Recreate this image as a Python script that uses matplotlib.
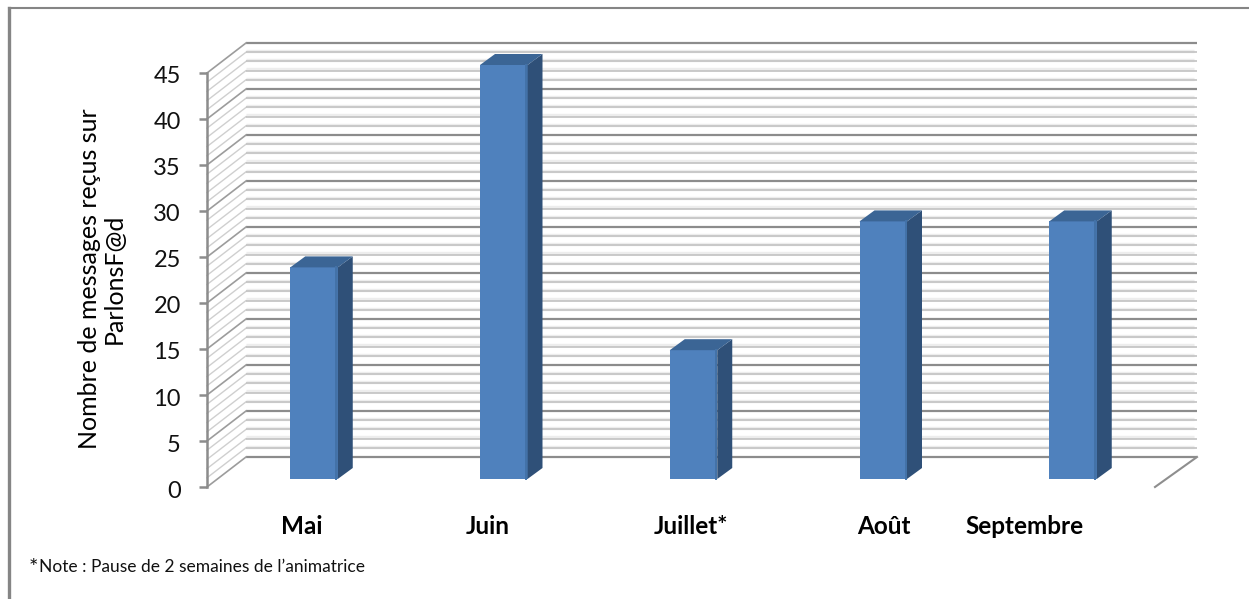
import matplotlib
matplotlib.use("Agg")
import matplotlib.pyplot as plt
import numpy as np
from matplotlib.lines import Line2D
from matplotlib.transforms import Affine2D, ScaledTranslation

plt.rcParams['font.family'] = ['Lato', 'DejaVu Sans']

months = ["Mai", "Juin", "Juillet*", "Août", "Septembre"]
messages = [23, 45, 14, 28, 28]
y_major = [0, 5, 10, 15, 20, 25, 30, 35, 40, 45]
y_minor = [v for v in range(0, 46) if v % 5 != 0]
label_shift_px = [-12, -16, -3, 1, -48]

W, H = 1249, 599
DPI = 100
UNIT_X = 189.75   # pixels per category
UNIT_Y = 9.2      # pixels per message

fig = plt.figure(figsize=(W / DPI, H / DPI), dpi=DPI, facecolor="white")
ax = fig.add_axes([207 / W, 1 - 487 / H, (1155 - 207) / W, (487 - 73) / H])
ax.set_xlim(-(314 - 207) / UNIT_X, (1155 - 314) / UNIT_X)
ax.set_ylim(0, 45)
ax.patch.set_visible(False)

# 3d look: shifts in display pixels
wall = ax.transData + Affine2D().translate(39, 30)
bar_plane = ax.transData + Affine2D().translate(0, 8)
x0, x1 = ax.get_xlim()
wall_end = x1 + 3 / UNIT_X
wall_dx = 39 / UNIT_X
wall_dy = 30 / UNIT_Y

# back wall and side wall grid
for v in y_minor:
    ax.plot([x0, wall_end - 3 / UNIT_X], [v + 0.14, v + 0.14], color="#ededed", lw=2.4, transform=wall,
            clip_on=False, zorder=1, solid_capstyle="butt")
    ax.plot([x0, wall_end], [v, v], color="#c2c2c2", lw=1.2, transform=wall,
            clip_on=False, zorder=1.1, solid_capstyle="butt")
    ax.plot([x0, x0 + wall_dx], [v, v + wall_dy], color="#cfcfcf", lw=1.0,
            clip_on=False, zorder=1)
for v in y_major:
    ax.plot([x0, wall_end], [v, v], color="#8c8c8c", lw=1.6, transform=wall,
            clip_on=False, zorder=1.2, solid_capstyle="butt")
    ax.plot([x0, x0 + wall_dx], [v, v + wall_dy], color="#9c9c9c", lw=1.2,
            clip_on=False, zorder=1.2)
ax.plot([x1, x1 + 42 / UNIT_X], [0, wall_dy], color="#8e8e8e", lw=1.5, clip_on=False, zorder=1.2)

# bars
bar_w = 47.5 / UNIT_X
side_dx = 15 / UNIT_X
side_dy = 11 / UNIT_Y
xs = np.arange(len(months))
ax.bar(xs, messages, width=bar_w, color="#4F81BD", transform=bar_plane, zorder=3, clip_on=False)
for x, v in zip(xs, messages):
    r = x + bar_w / 2
    l = x - bar_w / 2
    ax.fill([r, r + side_dx, r + side_dx, r], [0, side_dy, v + side_dy, v], color="#2F5078",
            transform=bar_plane, zorder=3, clip_on=False, lw=0)
    ax.fill([l, l + side_dx, r + side_dx, r], [v, v + side_dy, v + side_dy, v], color="#3B6595",
            transform=bar_plane, zorder=3, clip_on=False, lw=0)
    ax.plot([r - 1.5 / UNIT_X, r - 1.5 / UNIT_X], [0, v], color="#4372A8", lw=1.4,
            transform=bar_plane, zorder=3.1, clip_on=False)

# axes
for name in ["top", "right", "bottom"]:
    ax.spines[name].set_visible(False)
ax.spines["left"].set_color("#8c8c8c")
ax.spines["left"].set_linewidth(1.8)
ax.spines["left"].set_zorder(4)
ax.set_yticks(y_major)
ax.tick_params(axis="y", length=5.8, width=1.8, color="#8c8c8c", pad=13, labelsize=17, labelcolor="#111111")
ax.set_xticks([])

# tick labels sit slightly below their ticks
down = ScaledTranslation(0, -2 / DPI, fig.dpi_scale_trans)
for lab in ax.get_yticklabels():
    lab.set_transform(lab.get_transform() + down)

for x, name, shift in zip(xs, months, label_shift_px):
    ax.annotate(name, xy=(x, 0), xycoords="data", xytext=(shift * 72 / DPI, -39 * 72 / DPI),
                textcoords="offset points", ha="center", va="center", fontsize=17.5,
                fontweight="bold", color="black", annotation_clip=False)

fig.text(102 / W, 1 - 279 / H, "Nombre de messages reçus sur\nParlonsF@d", rotation=90,
         ha="center", va="center", fontsize=18, color="black", linespacing=1.1)
fig.text(29 / W, 1 - 568 / H, "*", fontsize=16, color="#111111", ha="left", va="center")
fig.text(39 / W, 1 - 567 / H, "Note : Pause de 2 semaines de l’animatrice", fontsize=12.5,
         color="#111111", ha="left", va="center")

# outer frame of the screenshot
fig.add_artist(Line2D([8.5 / W, 8.5 / W], [0, 1 - 8 / H], color="#858585", lw=2.4,
                      transform=fig.transFigure))
fig.add_artist(Line2D([8.5 / W, 1], [1 - 8 / H, 1 - 8 / H], color="#858585", lw=1.5,
                      transform=fig.transFigure))

fig.savefig("out.png", dpi=DPI, facecolor="white")
